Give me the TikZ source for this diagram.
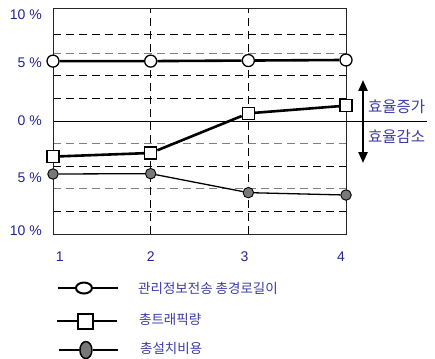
\documentclass[tikz,border=0pt]{standalone}
\usepackage{fontspec}
\setmainfont{Liberation Sans}
\newfontfamily\kofont{Noto Sans CJK KR}
\usetikzlibrary{arrows.meta}
\usetikzlibrary{shapes.geometric}

\definecolor{txtblue}{RGB}{35,35,150}
\definecolor{kotext}{RGB}{60,60,165}
\definecolor{dotgray}{RGB}{120,120,120}

\tikzset{
  lbl/.style={text=txtblue, font=\fontsize{14}{14}\selectfont, inner sep=1pt},
  kolbl/.style={text=kotext, font=\kofont\fontsize{15.5}{15.5}\selectfont, inner sep=0pt, anchor=west},
  kolgd/.style={text=kotext, font=\kofont\fontsize{13.5}{13.5}\selectfont, inner sep=0pt, anchor=west},
  gridln/.style={dash pattern=on 8pt off 5pt, line width=0.8pt},
  circmark/.style={circle, draw, fill=white, line width=1.3pt, minimum size=12pt, inner sep=0pt},
  sqmark/.style={rectangle, draw, fill=white, line width=1.3pt, minimum size=12pt, inner sep=0pt},
  dotmark/.style={circle, draw, fill=dotgray, line width=0.9pt, minimum size=10.5pt, inner sep=0pt}
}

\begin{document}
\begin{tikzpicture}[x=97.67pt, y=11.3pt]
\useasboundingbox (0.4574,-20.973) rectangle (4.911,10.708);

% grid
\foreach \v/\c in {7.7/black, 6/gray, 4/black, 2/black, -2/gray, -4/black, -6/gray, -8/black}
  \draw[gridln, \c] (1,\v) -- (4,\v);
\foreach \x in {2,3} \draw[gridln] (\x,-10) -- (\x,10);
\draw[line width=0.8pt] (1,0) -- (4.829,0);
\draw[line width=0.8pt, black!85] (1,-10) rectangle (4,10);

% tick labels
\foreach \p/\t [count=\i] in {9.38/10, 5.13/5, 0/0, -5.04/5, -9.73/10}
  \node[lbl, anchor=east] (ylab\i) at (0.897,\p) {\t~\%};
\foreach \p/\t [count=\i] in {1.07/1, 2/2, 2.96/3, 3.95/4}
  \node[lbl] (xlab\i) at (\p,-12.04) {\t};

% data
\foreach \v [count=\i] in {5.3, 5.3, 5.35, 5.4} \node[circmark] (c\i) at (\i,\v) {};
\foreach \v [count=\i] in {-3.15, -2.83, 0.68, 1.36} \node[sqmark] (s\i) at (\i,\v) {};
\foreach \v [count=\i] in {-4.69, -4.66, -6.34, -6.55} \node[dotmark] (g\i) at (\i,\v) {};
\draw[line width=2.6pt] (c1) -- (c2) -- (c3) -- (c4);
\draw[line width=2.6pt] (s1) -- (s2) -- (s3) -- (s4);
\draw[line width=1.3pt] (g1) -- (g2) -- (g3) -- (g4);

% efficiency arrow
\coordinate (effup) at (4.174,3.63);
\coordinate (effdn) at (4.174,-3.72);
\draw[{Triangle[length=11pt,width=9pt]}-{Triangle[length=11pt,width=9pt]}, line width=2.2pt] (effup) -- (effdn);
\node[kolbl] (gain) at (4.225,1.24) {효율증가};
\node[kolbl] (loss) at (4.225,-1.42) {효율감소};

% legend
\coordinate (l1a) at (1.051,-14.78);
\coordinate (l1b) at (1.665,-14.78);
\node[ellipse, draw, fill=white, line width=2pt, minimum width=16pt, minimum height=11pt, inner sep=0pt] (l1m) at (1.317,-14.78) {};
\draw[line width=2.8pt] (l1a) -- (l1m) -- (l1b);
\node[kolgd] (l1t) at (1.87,-14.78) {관리정보전송 총경로길이};

\coordinate (l2a) at (1.041,-17.7);
\coordinate (l2b) at (1.655,-17.7);
\node[sqmark, line width=2pt, minimum size=15pt] (l2m) at (1.337,-17.7) {};
\draw[line width=2.6pt] (l2a) -- (l2m) -- (l2b);
\node[kolgd] (l2t) at (1.88,-17.6) {총트래픽량};

\coordinate (l3a) at (1.061,-20.27);
\coordinate (l3b) at (1.665,-20.27);
\node[ellipse, draw, fill=dotgray, line width=1.5pt, minimum width=12pt, minimum height=17pt, inner sep=0pt] (l3m) at (1.337,-20.27) {};
\draw[line width=1.5pt] (l3a) -- (l3m) -- (l3b);
\node[kolgd] (l3t) at (1.89,-20.09) {총설치비용};

\end{tikzpicture}
\end{document}
